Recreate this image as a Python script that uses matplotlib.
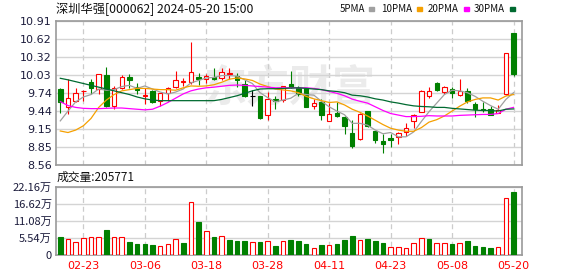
import matplotlib
matplotlib.use('Agg')
import matplotlib.pyplot as plt
from matplotlib.patches import Rectangle

# daily bars, 2024-02-20 .. 2024-05-20 (prices in yuan, volume in 万手)
dates = ['02-20', '02-21', '02-22', '02-23', '02-26', '02-27', '02-28', '02-29',
         '03-01', '03-04', '03-05', '03-06', '03-07', '03-08', '03-11', '03-12',
         '03-13', '03-14', '03-15', '03-18', '03-19', '03-20', '03-21', '03-22',
         '03-25', '03-26', '03-27', '03-28', '03-29', '04-01', '04-02', '04-03',
         '04-08', '04-09', '04-10', '04-11', '04-12', '04-15', '04-16', '04-17',
         '04-18', '04-19', '04-22', '04-23', '04-24', '04-25', '04-26', '04-29',
         '04-30', '05-06', '05-07', '05-08', '05-09', '05-10', '05-13', '05-14',
         '05-15', '05-16', '05-17', '05-20']
tick_dates = ['02-23', '03-06', '03-18', '03-28', '04-11', '04-23', '05-08', '05-20']

opens = [9.80, 9.50, 9.61, 9.765, 9.915, 9.80, 10.03, 9.53, 9.82, 9.99,
         9.84, 9.69, 9.77, 9.61, 9.73, 9.835, 9.91, 9.915, 9.99, 9.97,
         9.99, 9.975, 10.045, 10.02, 9.89, 9.69, 9.69, 9.37, 9.64, 9.62,
         9.88, 9.81, 9.81, 9.525, 9.585, 9.27, 9.415, 9.35, 9.075, 8.98,
         9.44, 9.115, 8.95, 9.005, 9.01, 9.095, 9.285, 9.43, 9.69, 9.905,
         9.755, 9.80, 9.70, 9.77, 9.555, 9.475, 9.475, 9.415, 9.715, 10.71]
highs = [9.81, 9.96, 9.81, 9.78, 9.96, 10.04, 10.16, 9.855, 10.03, 10.045,
         9.905, 9.81, 9.785, 9.73, 9.84, 10.095, 9.985, 10.565, 10.055, 10.045,
         10.14, 10.14, 10.15, 10.055, 9.945, 9.785, 9.69, 9.755, 9.69, 9.845,
         10.095, 9.85, 9.815, 9.64, 9.64, 9.575, 9.595, 9.355, 9.295, 9.415,
         9.445, 9.115, 9.06, 9.06, 9.095, 9.24, 9.385, 9.785, 9.84, 9.915,
         9.85, 9.84, 9.96, 9.815, 9.595, 9.595, 9.52, 9.54, 10.385, 10.71]
lows = [9.41, 9.39, 9.58, 9.605, 9.72, 9.72, 9.51, 9.47, 9.80, 9.81,
        9.72, 9.55, 9.565, 9.53, 9.605, 9.81, 9.855, 9.875, 9.86, 9.905,
        9.95, 9.945, 9.965, 9.83, 9.665, 9.52, 9.305, 9.295, 9.475, 9.595,
        9.81, 9.685, 9.51, 9.475, 9.295, 9.27, 9.35, 9.06, 8.84, 8.97,
        9.175, 8.915, 8.76, 8.86, 8.905, 9.035, 9.17, 9.43, 9.65, 9.775,
        9.72, 9.66, 9.685, 9.575, 9.35, 9.43, 9.375, 9.405, 9.70, 10.02]
closes = [9.58, 9.66, 9.73, 9.775, 9.81, 10.04, 9.52, 9.82, 9.99, 9.94,
          9.785, 9.70, 9.58, 9.73, 9.81, 9.94, 9.93, 10.07, 9.96, 10.02,
          9.97, 10.075, 10.065, 9.94, 9.68, 9.69, 9.33, 9.64, 9.61, 9.845,
          9.84, 9.72, 9.51, 9.57, 9.38, 9.39, 9.36, 9.20, 8.87, 9.40,
          9.20, 8.97, 8.90, 8.96, 9.09, 9.16, 9.38, 9.77, 9.76, 9.785,
          9.83, 9.73, 9.76, 9.61, 9.47, 9.45, 9.38, 9.45, 10.38, 10.04]
prev_close = 9.62  # close of the day before the first bar

ma5 = [9.28, 9.44, 9.59, 9.67, 9.71, 9.80, 9.78, 9.79, 9.84, 9.86,
       9.81, 9.85, 9.80, 9.75, 9.72, 9.75, 9.80, 9.90, 9.94, 9.98,
       9.99, 10.02, 10.02, 10.01, 9.95, 9.89, 9.74, 9.66, 9.59, 9.62,
       9.65, 9.73, 9.71, 9.70, 9.60, 9.51, 9.44, 9.38, 9.24, 9.24,
       9.21, 9.13, 9.07, 9.09, 9.02, 9.02, 9.10, 9.27, 9.43, 9.57,
       9.71, 9.78, 9.77, 9.74, 9.68, 9.60, 9.53, 9.47, 9.63, 9.74]
ma10 = [9.115, 9.09, 9.13, 9.20, 9.32, 9.50, 9.62, 9.71, 9.77, 9.79,
        9.81, 9.81, 9.80, 9.79, 9.79, 9.78, 9.82, 9.85, 9.845, 9.85,
        9.87, 9.91, 9.96, 9.98, 9.965, 9.94, 9.88, 9.84, 9.80, 9.785,
        9.77, 9.74, 9.68, 9.64, 9.61, 9.58, 9.59, 9.54, 9.47, 9.42,
        9.36, 9.29, 9.22, 9.16, 9.13, 9.11, 9.11, 9.17, 9.26, 9.30,
        9.36, 9.44, 9.52, 9.59, 9.63, 9.655, 9.655, 9.62, 9.685, 9.71]
ma20 = [9.595, 9.53, 9.50, 9.485, 9.48, 9.48, 9.485, 9.49, 9.49, 9.48,
        9.47, 9.46, 9.47, 9.52, 9.58, 9.65, 9.72, 9.77, 9.80, 9.82,
        9.83, 9.845, 9.86, 9.865, 9.86, 9.85, 9.84, 9.83, 9.82, 9.82,
        9.82, 9.82, 9.82, 9.81, 9.79, 9.76, 9.73, 9.69, 9.635, 9.60,
        9.57, 9.51, 9.45, 9.40, 9.375, 9.35, 9.35, 9.355, 9.365, 9.36,
        9.36, 9.36, 9.37, 9.375, 9.38, 9.385, 9.385, 9.40, 9.47, 9.50]
ma30 = [9.975, 9.95, 9.92, 9.89, 9.86, 9.83, 9.80, 9.77, 9.74, 9.71,
        9.67, 9.64, 9.62, 9.61, 9.61, 9.61, 9.61, 9.61, 9.61, 9.61,
        9.61, 9.63, 9.66, 9.69, 9.73, 9.77, 9.80, 9.805, 9.805, 9.81,
        9.815, 9.82, 9.81, 9.80, 9.79, 9.77, 9.76, 9.74, 9.70, 9.69,
        9.67, 9.64, 9.62, 9.59, 9.57, 9.545, 9.525, 9.515, 9.51, 9.50,
        9.50, 9.485, 9.475, 9.465, 9.455, 9.45, 9.45, 9.44, 9.47, 9.475]

volume = [5.95, 5.1, 4.2, 5.5, 5.8, 5.8, 8.1, 5.8, 5.8, 4.2,
          3.6, 3.6, 3.2, 2.9, 3.6, 5.1, 3.9, 17.2, 10.7, 7.8,
          5.8, 6.2, 4.9, 4.5, 4.5, 4.2, 4.2, 4.5, 2.9, 4.5,
          4.9, 4.5, 3.6, 2.3, 3.2, 3.2, 3.6, 4.9, 6.2, 4.9,
          5.2, 4.5, 3.9, 2.6, 2.6, 2.3, 3.9, 5.5, 5.2, 3.9,
          3.9, 3.6, 3.9, 4.5, 2.9, 2.6, 2.3, 2.6, 18.5, 20.58]
last_volume = 205771

price_ticks = [8.56, 8.85, 9.15, 9.44, 9.74, 10.03, 10.32, 10.62, 10.91]
vol_ticks = [0, 5.54, 11.08, 16.62, 22.16]

ma_names = ['5PMA', '10PMA', '20PMA', '30PMA']
ma_colors = ['#a0a0a0', '#f5a000', '#ff00ff', '#006a30']

RED = '#ff0000'
GREEN = '#008000'
CJK = ['Noto Sans CJK SC', 'DejaVu Sans']

fig = plt.figure(figsize=(5.78, 2.76), dpi=100)
ax = fig.add_axes([56 / 578, 1 - 165 / 276, 466 / 578, 144 / 276])
axv = fig.add_axes([56 / 578, 1 - 255 / 276, 466 / 578, 68.3 / 276])

n = len(closes)
xs = list(range(n))
tick_pos = [dates.index(d) for d in tick_dates]

# candle colours: red hollow up, green filled down, black doji
c_edge, c_face = [], []
for o, c in zip(opens, closes):
    if c > o:
        c_edge.append(RED); c_face.append('white')
    elif c < o:
        c_edge.append(GREEN); c_face.append(GREEN)
    else:
        c_edge.append('black'); c_face.append('black')

ax.text(0.5, 0.535, '东方财富', transform=ax.transAxes, ha='center', va='center',
        fontsize=31, color='#ebebeb', style='italic', weight='bold',
        family=CJK, zorder=0)

ax.vlines(xs, lows, highs, colors=c_edge, lw=0.8, zorder=2)
ax.bar(xs, [c - o for o, c in zip(opens, closes)], bottom=opens, width=0.58,
       color=c_face, edgecolor=c_edge, lw=0.8, zorder=3)

for vals, col in zip([ma5, ma10, ma20, ma30], ma_colors):
    ax.plot(xs, vals, color=col, lw=0.9, zorder=4)

# volume colours follow close vs previous close
pc = [prev_close] + closes[:-1]
v_edge = [RED if c >= p else GREEN for c, p in zip(closes, pc)]
v_face = ['white' if c >= p else GREEN for c, p in zip(closes, pc)]
axv.bar(xs, volume, width=0.6, color=v_face, edgecolor=v_edge, lw=0.8, zorder=3)

for a in (ax, axv):
    a.set_xlim(-0.56, 60.1)
    a.set_xticks(tick_pos)
    a.set_axisbelow(True)
    a.yaxis.grid(True, color='#d4d4d4', lw=1.0)
    a.xaxis.grid(True, color='#cccccc', lw=0.9, ls=(0, (4, 3)))
    a.tick_params(length=0, labelsize=8, colors='#1c1c3c', pad=3)
    for s in a.spines.values():
        s.set_color('#9a9a9a')
        s.set_linewidth(1.2)

ax.set_ylim(price_ticks[0], price_ticks[-1])
ax.set_yticks(price_ticks)
ax.set_yticklabels(['%.2f' % t for t in price_ticks])
ax.set_xticklabels([])

axv.set_ylim(vol_ticks[0], vol_ticks[-1])
axv.set_yticks(vol_ticks)
axv.set_yticklabels(['0'] + ['%.2f万' % t for t in vol_ticks[1:]], family=CJK)
axv.set_xticklabels(tick_dates, color=RED)
axv.tick_params(axis='x', pad=4)

fig.text(56 / 578, 1 - 9 / 276, '深圳华强[000062] 2024-05-20 15:00', fontsize=8.8,
         family=CJK, va='center', color='#111111')
lx = [340, 381, 428, 474]
for x0, name, col in zip(lx, ma_names, ma_colors):
    fig.text(x0 / 578, 1 - 9 / 276, name, fontsize=7, family=CJK, va='center', color='#111111')
    fig.patches.append(Rectangle(((x0 + 29 + (len(name) - 4) * 7) / 578, 1 - 11 / 276), 5 / 578, 4 / 276,
                                 transform=fig.transFigure, color=col, figure=fig))

fig.text(57 / 578, 1 - 177.5 / 276, '成交量:%d' % last_volume, fontsize=8.5,
         family=CJK, va='center', color='#111111')

fig.savefig('out.png', dpi=100)
